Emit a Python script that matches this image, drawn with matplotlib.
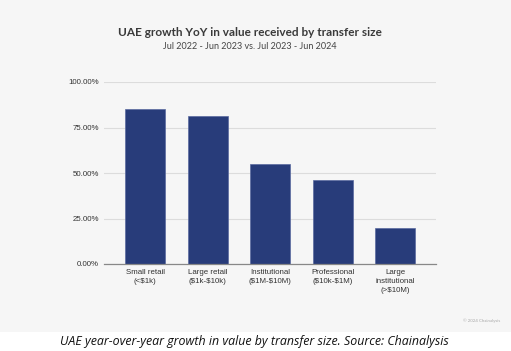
import matplotlib.pyplot as plt
from matplotlib.patches import Rectangle

categories = ['Small retail\n(<\\$1k)', 'Large retail\n(\\$1k-\\$10k)', 'Institutional\n(\\$1M-\\$10M)',
              'Professional\n(\\$10k-\\$1M)', 'Large\ninstitutional\n(>\\$10M)']
growth = [85.2, 81.2, 54.8, 46.2, 20.0]
yticks = [0, 25, 50, 75, 100]

W, H = 511, 351
fig = plt.figure(figsize=(W / 100, H / 100), dpi=100)
fig.patch.set_facecolor('white')

# light grey panel behind the chart
fig.add_artist(Rectangle((0, 1 - 332 / H), 1, 332 / H, transform=fig.transFigure,
                         facecolor='#f6f6f6', edgecolor='none', zorder=0))

ax = fig.add_axes([104 / W, 1 - 264 / H, 332 / W, 182 / H])
ax.set_facecolor('none')
ax.bar(range(len(growth)), growth, width=0.64, color='#283c7a', edgecolor='#5a6aa0',
       linewidth=0.5, zorder=3)
ax.set_xlim(-0.656, 4.656)
ax.set_ylim(0, 100)
ax.set_yticks(yticks)
ax.set_yticklabels([f'{v:.2f}%' for v in yticks])
ax.set_xticks(range(len(categories)))
ax.set_xticklabels(categories, linespacing=1.45, multialignment='center')
ax.grid(axis='y', color='#dcdcdc', linewidth=0.8, zorder=0)
ax.tick_params(axis='both', length=0, labelsize=5.7, labelcolor='#333333',
               labelfontfamily='Liberation Sans')
ax.tick_params(axis='y', pad=3.6)
ax.tick_params(axis='x', pad=3.5)
for s in ['top', 'right', 'left']:
    ax.spines[s].set_visible(False)
ax.spines['bottom'].set_color('#888888')
ax.spines['bottom'].set_linewidth(0.9)
ax.spines['bottom'].set_zorder(4)

fig.text(250 / W, 1 - 33 / H, 'UAE growth YoY in value received by transfer size',
         ha='center', va='center', fontsize=8.5, fontweight='bold', color='#3a3a3a',
         family='Lato')
fig.text(250 / W, 1 - 46.5 / H, 'Jul 2022 - Jun 2023 vs. Jul 2023 - Jun 2024',
         ha='center', va='center', fontsize=6.5, color='#444444', family='Lato')
fig.text(500 / W, 1 - 321 / H, '© 2024 Chainalysis', ha='right', va='center',
         fontsize=3.2, color='#aaaaaa', family='Lato')
fig.text(254 / W, 1 - 341 / H,
         'UAE year-over-year growth in value by transfer size. Source: Chainalysis',
         ha='center', va='center', fontsize=8.9, style='italic', color='#111111',
         family='Open Sans')

fig.savefig('out.png', dpi=100)
